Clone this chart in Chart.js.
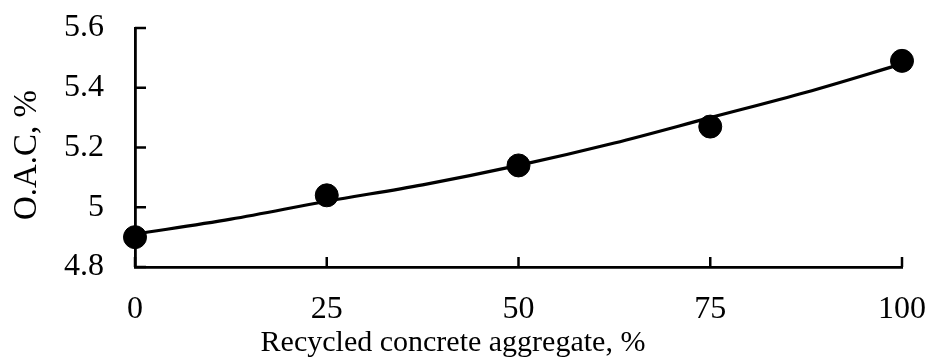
<!DOCTYPE html>
<html>
<head>
<meta charset="utf-8">
<script src="https://cdn.jsdelivr.net/npm/chart.js@4"></script>
<style>
    html, body { margin: 0; padding: 0; background: #fff; }
    canvas { display: block; }
</style>
</head>
<body>
<canvas id="oacChart" width="929" height="363"></canvas>
<script>
// Dados
const rcaPercent = [0, 25, 50, 75, 100];
const oacValues = [4.90, 5.04, 5.14, 5.27, 5.49];

// Linha de tendência
const trendX = [0, 12.5, 25, 37.5, 50, 62.5, 75, 87.5, 100];
const trendY = [4.91, 4.96, 5.02, 5.075, 5.14, 5.215, 5.30, 5.385, 5.48];

// Rótulos dos eixos
const xTickValues = [0, 25, 50, 75, 100];
const yTickLabels = ['4.8', '5', '5.2', '5.4', '5.6'];
const tituloX = 'Recycled concrete aggregate, %';
const tituloY = 'O.A.C, %';

const fonteSerif = '"Liberation Serif", "Times New Roman", serif';

// Zera o espaço extra que a escala pede para os rótulos
function semPaddingExtra(scale) {
    scale.paddingTop = 0;
    scale.paddingBottom = 0;
    scale.paddingLeft = 0;
    scale.paddingRight = 0;
}

// Marcas dos eixos para dentro e títulos dos eixos
const marcasInternas = {
    id: 'marcasInternas',
    afterDraw(chart) {
        const ctx = chart.ctx;
        const xs = chart.scales.x;
        const ys = chart.scales.y;
        const area = chart.chartArea;
        ctx.save();
        ctx.strokeStyle = '#000';
        ctx.lineWidth = 2.5;
        ys.ticks.forEach(t => {
            const y = ys.getPixelForValue(t.value);
            ctx.beginPath();
            ctx.moveTo(area.left, y);
            ctx.lineTo(area.left + 11, y);
            ctx.stroke();
        });
        xs.ticks.forEach(t => {
            const x = xs.getPixelForValue(t.value);
            ctx.beginPath();
            ctx.moveTo(x, area.bottom);
            ctx.lineTo(x, area.bottom - 10);
            ctx.stroke();
        });

        // Títulos
        ctx.fillStyle = '#000';
        ctx.textAlign = 'center';
        ctx.textBaseline = 'middle';
        ctx.font = '30px ' + fonteSerif;
        ctx.fillText(tituloX, area.left + 318, 343);

        ctx.translate(27, area.top + 127);
        ctx.rotate(-Math.PI / 2);
        ctx.font = '33px ' + fonteSerif;
        ctx.fillText(tituloY, 0, 0);
        ctx.restore();
    }
};

const ctx = document.getElementById('oacChart').getContext('2d');
new Chart(ctx, {
    type: 'scatter',
    data: {
        datasets: [
            {
                label: 'Tendência',
                data: trendX.map((x, i) => ({ x: x, y: trendY[i] })),
                showLine: true,
                borderColor: '#000',
                borderWidth: 3.2,
                pointRadius: 0,
                cubicInterpolationMode: 'monotone',
                clip: false,
                order: 2
            },
            {
                label: 'O.A.C',
                data: rcaPercent.map((x, i) => ({ x: x, y: oacValues[i] })),
                backgroundColor: '#000',
                borderColor: '#000',
                pointRadius: 11.5,
                pointHoverRadius: 11.5,
                clip: false,
                order: 1
            }
        ]
    },
    options: {
        responsive: false,
        animation: false,
        layout: {
            padding: { top: 28, right: 27, left: 0, bottom: 0 }
        },
        plugins: {
            legend: { display: false },
            tooltip: { enabled: false }
        },
        scales: {
            x: {
                type: 'linear',
                min: 0,
                max: 100,
                afterBuildTicks: scale => {
                    scale.ticks = xTickValues.map(v => ({ value: v }));
                },
                afterFit: scale => {
                    scale.height = 96;
                    semPaddingExtra(scale);
                },
                grid: { display: false },
                border: { display: true, color: '#000', width: 2.8 },
                ticks: {
                    color: '#000',
                    padding: 15,
                    maxRotation: 0,
                    font: { family: fonteSerif, size: 32 }
                },
                title: { display: false }
            },
            y: {
                type: 'linear',
                min: 4.8,
                max: 5.6,
                afterBuildTicks: scale => {
                    scale.ticks = yTickLabels.map(l => ({ value: parseFloat(l) }));
                },
                afterFit: scale => {
                    scale.width = 135;
                    semPaddingExtra(scale);
                },
                grid: { display: false },
                border: { display: true, color: '#000', width: 2.8 },
                ticks: {
                    color: '#000',
                    padding: 23,
                    font: { family: fonteSerif, size: 32 },
                    callback: (value, index) => yTickLabels[index]
                },
                title: { display: false }
            }
        }
    },
    plugins: [marcasInternas]
});
</script>
</body>
</html>
